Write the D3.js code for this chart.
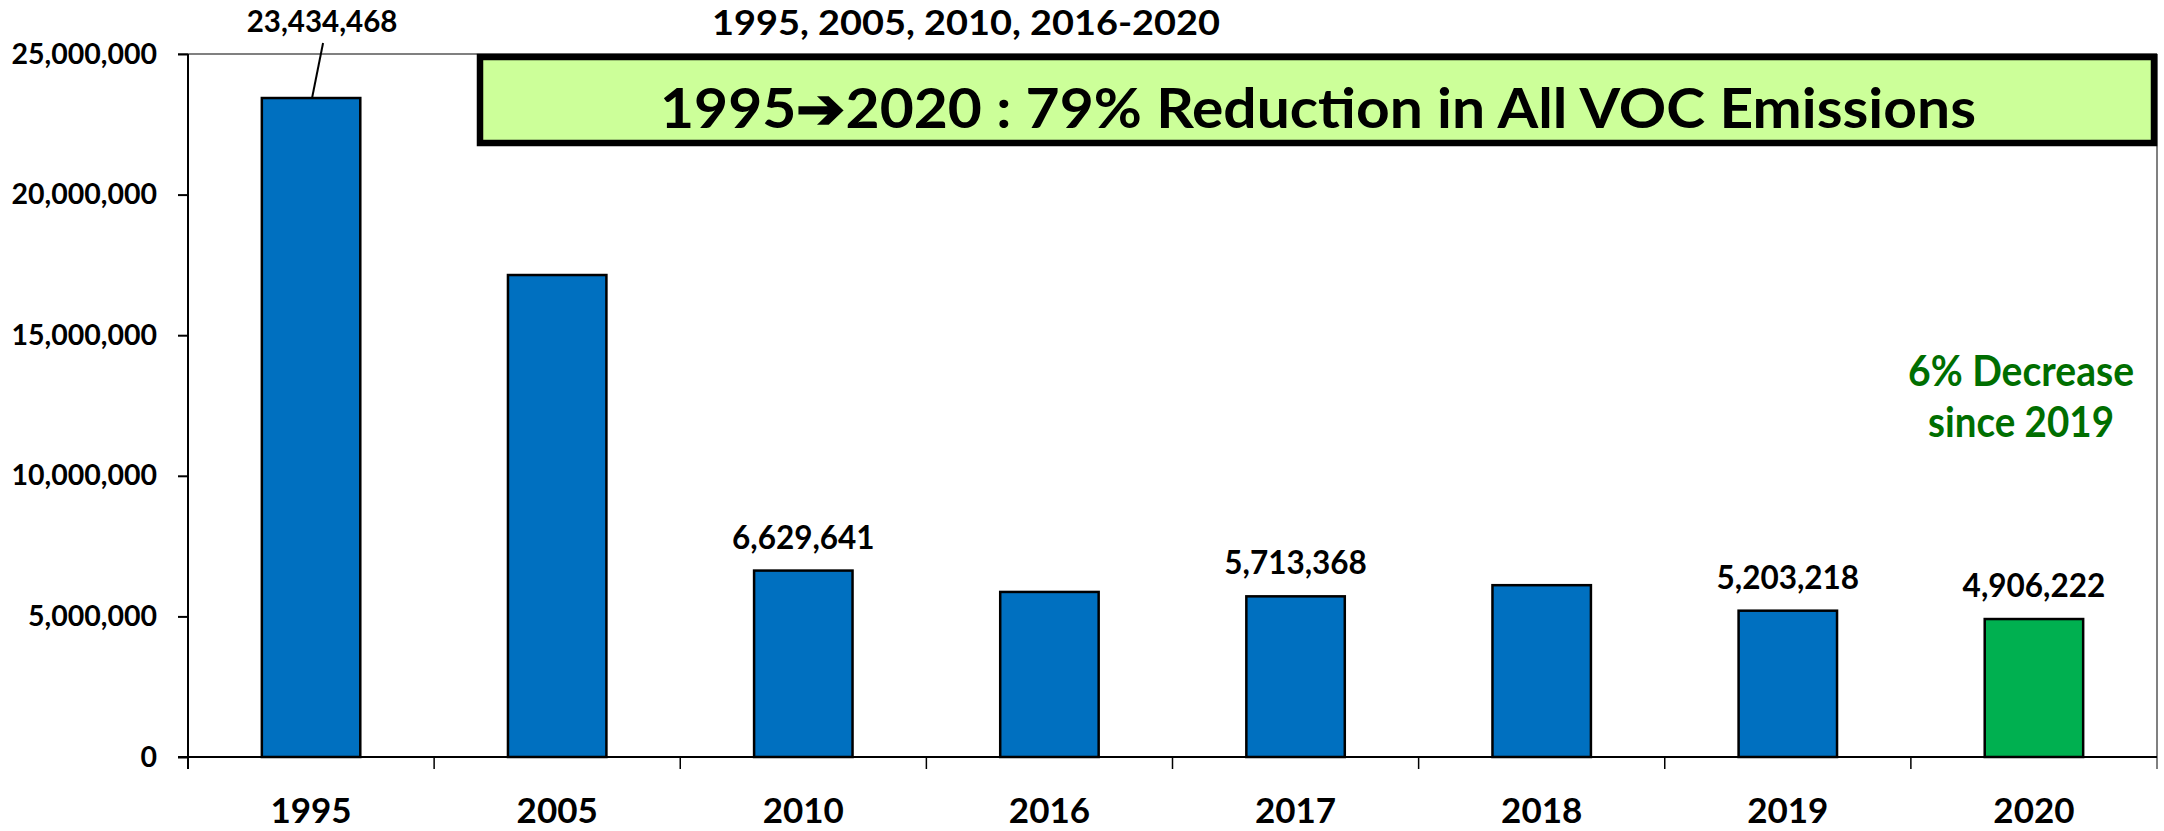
<!DOCTYPE html>
<html>
<head>
<meta charset="utf-8">
<script src="https://cdn.jsdelivr.net/npm/d3@7"></script>
<style>
  body { margin: 0; background: #fff; }
  text { font-family: Lato, "Open Sans", sans-serif; font-weight: bold; }
</style>
</head>
<body>
<script>
// values (unlabelled bars estimated)
const years = ["1995", "2005", "2010", "2016", "2017", "2018", "2019", "2020"];
const emissions = [23434468, 17140000, 6629641, 5870000, 5713368, 6110000, 5203218, 4906222];
const showLabel = [true, false, true, false, true, false, true, true];
const yTicks = [0, 5000000, 10000000, 15000000, 20000000, 25000000];

const width = 2164;
const height = 831;

const svg = d3.select('body').append('svg').attr('width', width).attr('height', height);

const plotLeft = 188, plotRight = 2157, plotTop = 54, plotBottom = 757;

const x = d3.scaleBand().domain(years).range([plotLeft, plotRight]).paddingInner(0.6).paddingOuter(0.3);
const y = d3.scaleLinear().domain([0, 25000000]).range([plotBottom, plotTop]);
const fmt = d3.format(",");

// plot area frame (top + right, grey)
svg.append('line').attr('x1', plotLeft - 10).attr('x2', plotRight).attr('y1', plotTop).attr('y2', plotTop)
    .attr('stroke', '#808080').attr('stroke-width', 2);
svg.append('line').attr('x1', plotRight).attr('x2', plotRight).attr('y1', plotTop).attr('y2', plotBottom + 12)
    .attr('stroke', '#808080').attr('stroke-width', 2);

// y axis
const yAxis = svg.append('g').attr('transform', `translate(${plotLeft},0)`)
    .call(d3.axisLeft(y).tickValues(yTicks).tickSize(10).tickPadding(21).tickFormat(fmt));
yAxis.select('.domain').attr('stroke', '#000').attr('stroke-width', 2)
    .attr('d', `M0,${plotTop}V${plotBottom + 12}`);
yAxis.selectAll('.tick line').attr('stroke', '#000').attr('stroke-width', 2);
yAxis.selectAll('.tick text').attr('font-size', 28.5).attr('fill', '#000')
    .attr('font-family', 'Lato, sans-serif').attr('font-weight', 'bold');

// x axis baseline and category separators
svg.append('line').attr('x1', plotLeft - 10).attr('x2', plotRight).attr('y1', plotBottom).attr('y2', plotBottom)
    .attr('stroke', '#000').attr('stroke-width', 2);
const gap = (x.step() - x.bandwidth()) / 2;
svg.selectAll('.sep').data(years.slice(1)).enter().append('line')
    .attr('x1', d => x(d) - gap).attr('x2', d => x(d) - gap)
    .attr('y1', plotBottom).attr('y2', plotBottom + 12)
    .attr('stroke', '#000').attr('stroke-width', 1.5);

svg.selectAll('.xlab').data(years).enter().append('text')
    .attr('x', d => x(d) + x.bandwidth() / 2).attr('y', 823)
    .attr('text-anchor', 'middle').attr('font-size', 35).text(d => d);

// bars
svg.selectAll('.bar').data(years).enter().append('rect')
    .attr('x', d => x(d)).attr('width', x.bandwidth())
    .attr('y', (d, i) => y(emissions[i])).attr('height', (d, i) => plotBottom - y(emissions[i]))
    .attr('fill', (d, i) => i === years.length - 1 ? '#00B050' : '#0070C0')
    .attr('stroke', '#000').attr('stroke-width', 2.5);

// data labels
years.forEach((d, i) => {
    if (!showLabel[i]) return;
    const cx = x(d) + x.bandwidth() / 2;
    if (i === 0) {
        svg.append('text').attr('x', cx + 11).attr('y', 32).attr('text-anchor', 'middle')
            .attr('font-size', 29.5).text(fmt(emissions[i]));
        svg.append('line').attr('x1', cx + 12).attr('y1', 43).attr('x2', cx + 1).attr('y2', y(emissions[i]))
            .attr('stroke', '#000').attr('stroke-width', 2);
    } else {
        svg.append('text').attr('x', cx).attr('y', y(emissions[i]) - 22).attr('text-anchor', 'middle')
            .attr('font-size', 31.5).text(fmt(emissions[i]));
    }
});

// subtitle
svg.append('text').attr('x', 966).attr('y', 35).attr('text-anchor', 'middle')
    .attr('font-size', 34).attr('textLength', 508).attr('lengthAdjust', 'spacingAndGlyphs')
    .text('1995, 2005, 2010, 2016-2020');

// headline box
svg.append('rect').attr('x', 480).attr('y', 57).attr('width', 2154 - 480).attr('height', 143 - 57)
    .attr('fill', '#CCFF99').attr('stroke', '#000').attr('stroke-width', 6.5);
svg.append('text').attr('x', 1318).attr('y', 128).attr('text-anchor', 'middle')
    .attr('font-size', 56).attr('textLength', 1316).attr('lengthAdjust', 'spacingAndGlyphs')
    .text('1995\u27942020 : 79% Reduction in All VOC Emissions');

// green note
const note = svg.append('text').attr('text-anchor', 'middle').attr('fill', '#006E00').attr('font-size', 42);
note.append('tspan').attr('x', 2021).attr('y', 386).attr('textLength', 226).attr('lengthAdjust', 'spacingAndGlyphs')
    .text('6% Decrease');
note.append('tspan').attr('x', 2021).attr('y', 437).attr('textLength', 186).attr('lengthAdjust', 'spacingAndGlyphs')
    .text('since 2019');
</script>
</body>
</html>
